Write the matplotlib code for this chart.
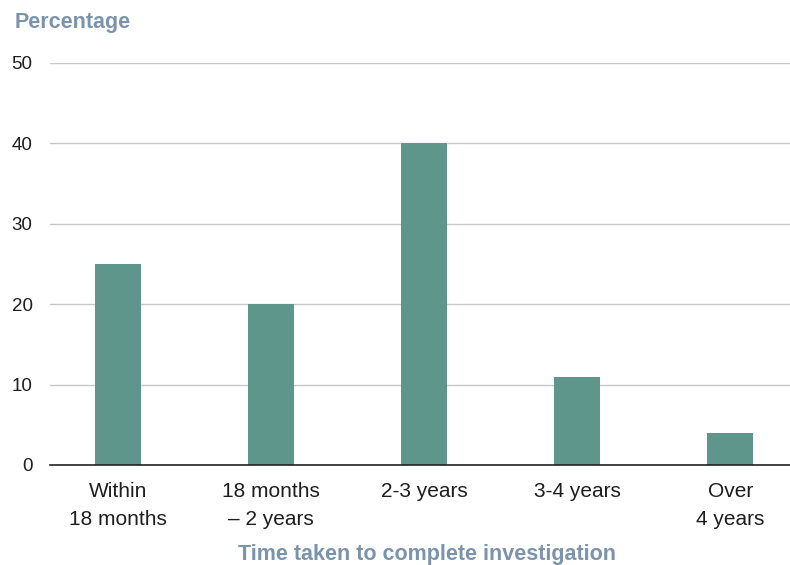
import numpy as np
import matplotlib.pyplot as plt

plt.rcParams['font.family'] = ['Liberation Sans', 'DejaVu Sans']

categories = ["Within\n18 months", "18 months\n\u2013 2 years", "2-3 years", "3-4 years", "Over\n4 years"]
percentages = [25, 20, 40, 11, 4]
yticks = [0, 10, 20, 30, 40, 50]

bar_color = "#5f968c"
title_color = "#7b93ab"
text_color = "#1e1e1e"

fig = plt.figure(figsize=(7.9, 5.65), dpi=100)
ax = fig.add_axes([0.0633, 0.177, 0.9367, 0.7115])

x = np.arange(len(categories))
ax.bar(x, percentages, width=0.3, color=bar_color, zorder=3)

ax.set_ylim(0, 50)
ax.set_xlim(-0.445, 4.39)
ax.set_yticks(yticks)
ax.set_xticks(x)
ax.set_xticklabels(categories, fontsize=15, linespacing=1.62, color=text_color)
ax.tick_params(axis='y', labelsize=13.5, labelcolor=text_color, length=0, pad=12.5)
ax.tick_params(axis='x', length=0, pad=12)
ax.grid(axis='y', color="#c8c8c8", linewidth=1, zorder=0)

for side in ["top", "right", "left"]:
    ax.spines[side].set_visible(False)
ax.spines["bottom"].set_color("#222222")
ax.spines["bottom"].set_linewidth(1.2)
ax.spines["bottom"].set_zorder(4)

fig.text(0.018, 0.96, "Percentage", fontsize=15.5, fontweight="bold",
         color=title_color, ha="left", va="center")
fig.text(0.541, 0.019, "Time taken to complete investigation", fontsize=15.5,
         fontweight="bold", color=title_color, ha="center", va="center")

fig.savefig("out.png", dpi=100)
